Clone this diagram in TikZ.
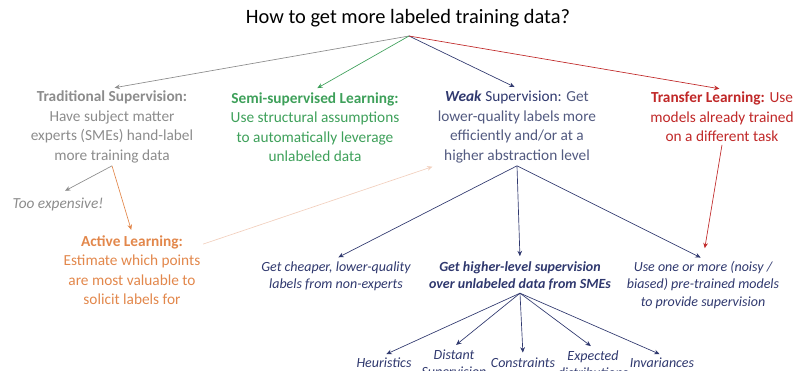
\documentclass[tikz,border=0pt]{standalone}
\usepackage{fontspec}
\setmainfont{Carlito}
\usetikzlibrary{arrows.meta}
\definecolor{tradgray}{RGB}{140,140,140}
\definecolor{semigreen}{RGB}{62,160,90}
\definecolor{weaknavy}{RGB}{47,56,110}
\definecolor{weakbody}{RGB}{82,90,128}
\definecolor{transred}{RGB}{192,40,40}
\definecolor{activeorange}{RGB}{226,135,75}
\definecolor{peach}{RGB}{242,208,190}
\begin{document}
\begin{tikzpicture}[x=0.75pt, y=-0.75pt,
        txt/.style={align=center, inner sep=2pt, font=\fontsize{11.5}{14.6}\selectfont},
        sub/.style={align=center, inner sep=2pt, text=weaknavy, font=\fontsize{10.5}{12.8}\selectfont\itshape},
        arrow/.style={-{Stealth[length=4pt,width=3.5pt]}, line width=0.5pt, shorten >=2pt}
    ]
        \useasboundingbox (0,0) rectangle (801,371);
        \node[font=\fontsize{15.3}{18}\selectfont] (title) at (408,18) {How to get more labeled training data?};
        \coordinate (root) at (409,36);
        
        \node[txt, text=tradgray] (trad) at (112,127) {\textbf{Traditional Supervision:}\\Have subject matter\\experts (SMEs) hand-label\\more training data};
        \node[txt, text=semigreen] (semi) at (315,127) {\textbf{Semi-supervised Learning:}\\Use structural assumptions\\to automatically leverage\\unlabeled data};
        \node[txt, text=weakbody] (weak) at (517,127) {\textcolor{weaknavy}{\textbf{\textit{Weak}} Supervision:} Get\\lower-quality labels more\\efficiently and/or at a\\higher abstraction level};
        \node[txt, text=transred] (transfer) at (722,117) {\textbf{Transfer Learning:} Use\\models already trained\\on a different task};
        
        \node[sub, text=tradgray, font=\fontsize{11.5}{14}\selectfont\itshape] (expensive) at (58,204) {Too expensive!};
        \node[txt, text=activeorange] (active) at (132,270) {\textbf{Active Learning:}\\Estimate which points\\are most valuable to\\solicit labels for};
        
        \node[sub] (cheap) at (336,276) {Get cheaper, lower-quality\\labels from non-experts};
        \node[sub, font=\fontsize{10.5}{12.8}\selectfont\bfseries\itshape] (higher) at (520,276) {Get higher-level supervision\\over unlabeled data from SMEs};
        \node[sub] (pretrained) at (703,285) {Use one or more (noisy /\\biased) pre-trained models\\to provide supervision};
        
        \node[sub] (heur) at (384,363) {Heuristics};
        \node[sub] (distant) at (454,364) {Distant\\Supervision};
        \node[sub] (constr) at (523,363) {Constraints};
        \node[sub] (expected) at (593,364) {Expected\\distributions};
        \node[sub] (invar) at (662,363) {Invariances};
        
        \draw[arrow, tradgray] (root) -- (trad.north);
        \draw[arrow, semigreen] (root) -- (semi.north);
        \draw[arrow, weaknavy] (root) -- (weak.north);
        \draw[arrow, transred] (root) -- (transfer.north);
        
        \draw[arrow, tradgray, shorten >=6pt] (trad.south) -- (expensive.north);
        \draw[arrow, activeorange] (trad.south) -- (active.north);
        \draw[arrow, peach] (active.20) -- (weak.south west);
        
        \draw[arrow, weaknavy] (weak.south) -- (cheap.north);
        \draw[arrow, weaknavy] (weak.south) -- (higher.north);
        \draw[arrow, weaknavy] (weak.south) -- (pretrained.north);
        \draw[arrow, transred, shorten >=8pt] (transfer.south) -- (pretrained.north);
        
        \foreach \leaf in {heur, distant, constr, expected, invar}
            \draw[arrow, weaknavy] (higher.south) -- (\leaf.north);
    \end{tikzpicture}
\end{document}
